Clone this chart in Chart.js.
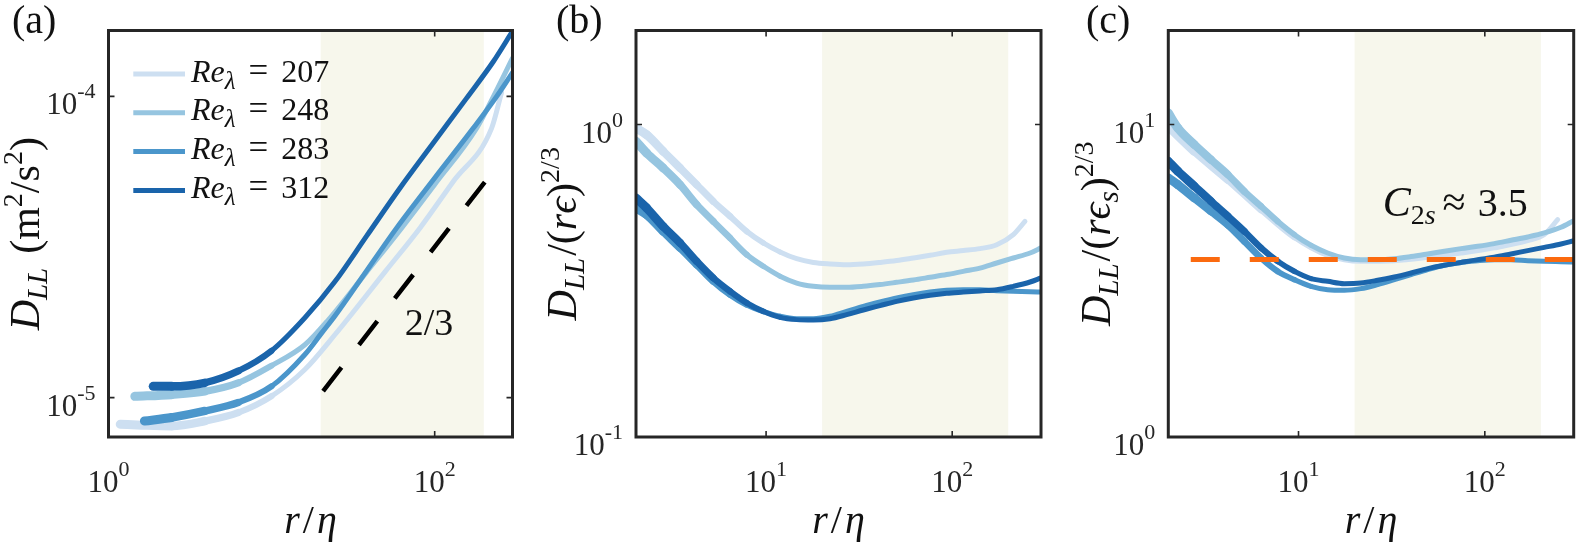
<!DOCTYPE html>
<html>
<head>
<meta charset="utf-8">
<script src="https://cdn.jsdelivr.net/npm/chart.js@4.4.1/dist/chart.umd.min.js"></script>
<style>
html,body{margin:0;padding:0;background:#fff;}
#wrap{position:relative;width:1576px;height:542px;overflow:hidden;background:#fff;}
canvas{position:absolute;top:0;}
</style>
</head>
<body>
<div id="wrap">
<canvas id="cA" width="525" height="542" style="left:0px"></canvas>
<canvas id="cB" width="525" height="542" style="left:525px"></canvas>
<canvas id="cC" width="526" height="542" style="left:1050px"></canvas>
</div>
<script>
// ==============================
// Structure function panels (a) (b) (c)
// ==============================

const reLambda = [207, 248, 283, 312]

// (a) D_LL vs r/eta
const rA207 = [1.18, 1.6, 2.44, 3.9, 6.24, 10, 16, 24.5, 50, 81.3, 130, 223.5, 257]
const dA207 = [8.16e-6, 8.1e-6, 8.05e-6, 8.36e-6, 8.92e-6, 1.012e-5, 1.24e-5, 1.62e-5, 2.63e-5, 3.66e-5, 5.22e-5, 7.85e-5, 1.03e-4]
const rA248 = [1.45, 2.44, 3.9, 6.24, 10, 16, 22.3, 38, 62.8, 100, 180.8, 240, 300]
const dA248 = [1.01e-5, 1.023e-5, 1.049e-5, 1.119e-5, 1.277e-5, 1.498e-5, 1.813e-5, 2.6e-5, 3.66e-5, 5.1e-5, 7.85e-5, 1.05e-4, 1.34e-4]
const rA283 = [1.66, 2.44, 3.9, 6.24, 10, 16, 20.3, 24.5, 35, 58.5, 100, 172.6, 240, 300]
const dA283 = [8.36e-6, 8.59e-6, 9.03e-6, 9.63e-6, 1.09e-5, 1.39e-5, 1.64e-5, 1.87e-5, 2.46e-5, 3.66e-5, 5.36e-5, 7.85e-5, 1.0e-4, 1.2e-4]
const rA312 = [1.88, 2.44, 3.9, 6.24, 10, 16, 24.4, 38.3, 61.3, 98, 157, 229, 300]
const dA312 = [1.09e-5, 1.09e-5, 1.12e-5, 1.225e-5, 1.431e-5, 1.841e-5, 2.423e-5, 3.443e-5, 4.966e-5, 7.0e-5, 9.87e-5, 1.306e-4, 1.646e-4]
const slopeR = [20.7, 203]
const slopeD = [1.05e-5, 5.2e-5]

// (b) D_LL/(r eps)^(2/3)
const rB207 = [2.0, 2.28, 2.8, 3.45, 4.24, 5.2, 6.4, 7.87, 9.66, 11.88, 14.6, 17.95, 22.05, 27.1, 33.3, 40.9, 50.3, 61.8, 76, 93.4, 114.7, 141, 173.5, 213, 246]
const cB207 = [0.975, 0.928, 0.821, 0.726, 0.642, 0.568, 0.509, 0.455, 0.418, 0.391, 0.372, 0.362, 0.358, 0.356, 0.358, 0.362, 0.367, 0.374, 0.3815, 0.39, 0.395, 0.4007, 0.4125, 0.4446, 0.49]
const rB = [2.0, 2.28, 2.8, 3.45, 4.24, 5.2, 6.4, 7.87, 9.66, 11.88, 14.6, 17.95, 22.05, 27.1, 33.3, 40.9, 50.3, 61.8, 76, 93.4, 114.7, 141, 173.5, 213, 262, 300]
const cB248 = [0.884, 0.811, 0.726, 0.642, 0.554, 0.49, 0.4335, 0.3835, 0.352, 0.327, 0.311, 0.3035, 0.3013, 0.3013, 0.3035, 0.3075, 0.3126, 0.318, 0.3244, 0.331, 0.339, 0.347, 0.3605, 0.374, 0.388, 0.403]
const cB283 = [0.541, 0.515, 0.455, 0.403, 0.356, 0.315, 0.2855, 0.2652, 0.2525, 0.2434, 0.2391, 0.2391, 0.2434, 0.2525, 0.262, 0.2705, 0.2786, 0.2855, 0.291, 0.2947, 0.296, 0.296, 0.294, 0.2926, 0.2915, 0.291]
const cB312 = [0.582, 0.541, 0.472, 0.418, 0.365, 0.323, 0.2926, 0.2685, 0.2525, 0.2416, 0.2375, 0.2368, 0.2391, 0.2464, 0.255, 0.2633, 0.2718, 0.2786, 0.2842, 0.2884, 0.291, 0.2935, 0.296, 0.3035, 0.3134, 0.323]

// (c) D_LL/(r eps_s)^(2/3)
const rC207 = [2.0, 2.76, 4.17, 6.29, 9.49, 14.34, 21.6, 32.7, 49.4, 74.5, 112.4, 169.9, 208.6, 246]
const cC207 = [9.87, 8.21, 6.66, 5.34, 4.356, 3.815, 3.65, 3.668, 3.76, 3.88, 4.03, 4.25, 4.446, 4.96]
const rC = [2.0, 2.25, 2.76, 3.39, 4.17, 5.12, 6.29, 7.73, 9.49, 11.67, 14.34, 17.6, 21.6, 26.6, 32.7, 40.2, 49.4, 60.6, 74.5, 91.6, 112.4, 138.2, 169.9, 208.6, 256.4, 300]
const cC248 = [10.89, 9.75, 8.63, 7.72, 6.92, 6.11, 5.476, 4.9, 4.446, 4.107, 3.88, 3.74, 3.695, 3.695, 3.72, 3.78, 3.853, 3.93, 4.007, 4.077, 4.158, 4.261, 4.367, 4.498, 4.69, 4.925]
const cC283 = [6.75, 6.42, 5.82, 5.276, 4.78, 4.23, 3.74, 3.39, 3.188, 3.035, 2.96, 2.947, 2.984, 3.075, 3.188, 3.31, 3.434, 3.544, 3.62, 3.668, 3.695, 3.695, 3.668, 3.65, 3.64, 3.633]
const cC312 = [7.63, 7.09, 6.35, 5.68, 5.09, 4.55, 4.03, 3.65, 3.39, 3.212, 3.15, 3.096, 3.11, 3.173, 3.252, 3.35, 3.458, 3.544, 3.62, 3.695, 3.76, 3.853, 3.95, 4.046, 4.147, 4.25]
const c2sR = [2.64, 300]
const c2sV = [3.7, 3.7]

// inertial range band
const bandR = [20, 200]


const blues = ["#cddff1", "#96c5e0", "#4b96cb", "#1a64ab"]
const SERIF = '"Liberation Serif",serif'
const INK = "#262626"


function pts(xs, ys){
return xs.map((x,i)=>({x:x, y:ys[i]}))
}

// the small-r part of each record is noisy, so it reads as a wider band
function bandWidth(x){
if(x >= 10) return 5
if(x <= 2) return 9
return 5 + 4*Math.log(10/x)/Math.log(5)
}

function curve(xs, ys, i){
return {
data: pts(xs, ys),
borderColor: blues[i],
borderWidth: 5,
borderCapStyle: "round",
borderJoinStyle: "round",
pointRadius: 0,
cubicInterpolationMode: "monotone",
clip: 0,
order: 4 - i,
segment: {
borderWidth: c => bandWidth(xs[c.p0DataIndex])
}
}
}

function dashed(xs, ys, color, dash, w){
return {
data: pts(xs, ys),
borderColor: color,
borderWidth: w,
borderDash: dash,
borderCapStyle: "butt",
pointRadius: 0,
clip: 0,
order: 0
}
}


// rich text helpers

function setFont(ctx, size, it){
ctx.font = (it ? "italic " : "") + size + "px " + SERIF
}

function richWidth(ctx, parts){
let w = 0
parts.forEach(p=>{
setFont(ctx, p.s, p.it)
w += ctx.measureText(p.t).width + (p.g || 0)
})
return w
}

function drawRich(ctx, parts, x, y){
let cx = x
parts.forEach(p=>{
setFont(ctx, p.s, p.it)
ctx.fillText(p.t, cx, y + (p.dy || 0))
cx += ctx.measureText(p.t).width + (p.g || 0)
})
}

function powLabel(v){
const e = Math.round(Math.log10(v))
return [{t:"10", s:31}, {t:String(e), s:22, dy:-16}]
}


// panel decorations

const panelPlugin = {

id: "panel",

beforeDatasetsDraw(chart, args, o){
const {ctx, chartArea:a, scales:{x}} = chart
const x0 = x.getPixelForValue(bandR[0])
const x1 = x.getPixelForValue(bandR[1])
ctx.save()
ctx.fillStyle = "#f7f7ec"
ctx.fillRect(x0, a.top, x1 - x0, a.bottom - a.top)
ctx.restore()
},

afterDatasetsDraw(chart, args, o){
const {ctx, chartArea:a, scales:{x, y}} = chart
ctx.save()
ctx.strokeStyle = INK
ctx.fillStyle = INK
ctx.textBaseline = "alphabetic"

// inward ticks on all four sides
ctx.lineWidth = 1.6
ctx.beginPath()
o.xTicks.forEach(v=>{
const px = x.getPixelForValue(v)
ctx.moveTo(px, a.bottom); ctx.lineTo(px, a.bottom - 6)
ctx.moveTo(px, a.top); ctx.lineTo(px, a.top + 6)
})
o.yTicks.forEach(v=>{
const py = y.getPixelForValue(v)
ctx.moveTo(a.left, py); ctx.lineTo(a.left + 6, py)
ctx.moveTo(a.right, py); ctx.lineTo(a.right - 6, py)
})
ctx.stroke()

// box
ctx.lineWidth = 3
ctx.strokeRect(a.left, a.top, a.right - a.left, a.bottom - a.top)

// tick labels
o.xTicks.forEach(v=>{
const parts = powLabel(v)
const w = richWidth(ctx, parts)
drawRich(ctx, parts, x.getPixelForValue(v) - w/2, a.bottom + 55)
})
o.yTicks.forEach(v=>{
const parts = powLabel(v)
const w = richWidth(ctx, parts)
drawRich(ctx, parts, a.left - 13 - w, y.getPixelForValue(v) + 18)
})

ctx.fillStyle = "#111"

// x label
const xl = [{t:"r", s:40, it:true, g:3}, {t:"/", s:40, g:3}, {t:"η", s:40, it:true}]
const xw = richWidth(ctx, xl)
drawRich(ctx, xl, (a.left + a.right)/2 - xw/2, a.bottom + 96)

// y label (rotated)
ctx.save()
ctx.translate(a.left + o.yLabelDx, (a.top + a.bottom)/2)
ctx.rotate(-Math.PI/2)
const yw = richWidth(ctx, o.yLabel)
drawRich(ctx, o.yLabel, -yw/2, 13)
ctx.restore()

// panel letter
setFont(ctx, 40, false)
ctx.fillText(o.letter, o.letterX, 33)

if(o.extra) o.extra(chart, ctx, a)

ctx.restore()
}

}

Chart.register(panelPlugin)


function makePanel(id, datasets, scaleX, scaleY, pad, deco){
return new Chart(document.getElementById(id), {
type: "line",
data: {datasets: datasets},
options: {
responsive: false,
animation: false,
events: [],
layout: {padding: pad},
scales: {
x: {type: "logarithmic", min: scaleX[0], max: scaleX[1], display: false},
y: {type: "logarithmic", min: scaleY[0], max: scaleY[1], display: false}
},
plugins: {
legend: {display: false},
tooltip: {enabled: false},
panel: deco
}
}
})
}


// (a)

makePanel("cA",
[
curve(rA207, dA207, 0),
curve(rA248, dA248, 1),
curve(rA283, dA283, 2),
curve(rA312, dA312, 3),
dashed(slopeR, slopeD, "#000000", [30, 28.6], 4.5)
],
[1, 300], [7.4e-6, 1.655e-4],
{left: 108.5, right: 12.5, top: 30.5, bottom: 105},
{
xTicks: [1, 100],
yTicks: [1e-5, 1e-4],
letter: "(a)", letterX: 12,
yLabelDx: -83,
yLabel: [
{t:"D", s:42, it:true},
{t:"LL", s:29, it:true, dy:8, g:14},
{t:"(m", s:42},
{t:"2", s:28, dy:-17},
{t:"/s", s:42},
{t:"2", s:28, dy:-17},
{t:")", s:42}
],
extra(chart, ctx, a){
// legend
reLambda.forEach((re, i)=>{
const ly = a.top + 43.5 + i*38.8
ctx.strokeStyle = blues[i]
ctx.lineWidth = 5
ctx.beginPath()
ctx.moveTo(a.left + 24.8, ly)
ctx.lineTo(a.left + 76.5, ly)
ctx.stroke()
ctx.fillStyle = "#111"
drawRich(ctx, [
{t:"Re", s:32, it:true},
{t:"λ", s:25, it:true, dy:7, g:13},
{t:"=", s:35, g:13},
{t:String(re), s:32}
], a.left + 82.5, ly + 7.5)
})
// slope annotation
const tp = [{t:"2/3", s:38}]
const tw = richWidth(ctx, tp)
drawRich(ctx, tp, a.left + 320.5 - tw/2, a.top + 304.5)
}
}
)


// (b)

makePanel("cB",
[
curve(rB207, cB207, 0),
curve(rB, cB248, 1),
curve(rB, cB283, 2),
curve(rB, cB312, 3)
],
[2, 300], [0.1, 2],
{left: 111, right: 9, top: 30.5, bottom: 105},
{
xTicks: [10, 100],
yTicks: [0.1, 1],
letter: "(b)", letterX: 31,
yLabelDx: -73,
yLabel: [
{t:"D", s:42, it:true},
{t:"LL", s:29, it:true, dy:8, g:2},
{t:"/(", s:42},
{t:"r", s:42, it:true},
{t:"ϵ", s:42, it:true},
{t:")", s:42},
{t:"2/3", s:28, dy:-17}
]
}
)


// (c)

makePanel("cC",
[
curve(rC207, cC207, 0),
curve(rC, cC248, 1),
curve(rC, cC283, 2),
curve(rC, cC312, 3),
dashed(c2sR, c2sV, "#fb6a0f", [29, 30], 5)
],
[2, 300], [1, 20],
{left: 118.3, right: 2.3, top: 30.5, bottom: 105},
{
xTicks: [10, 100],
yTicks: [1, 10],
letter: "(c)", letterX: 36,
yLabelDx: -71,
yLabel: [
{t:"D", s:42, it:true},
{t:"LL", s:29, it:true, dy:8, g:2},
{t:"/(", s:42},
{t:"r", s:42, it:true},
{t:"ϵ", s:42, it:true},
{t:"s", s:29, it:true, dy:8},
{t:")", s:42},
{t:"2/3", s:28, dy:-17}
],
extra(chart, ctx, a){
ctx.fillStyle = "#111"
drawRich(ctx, [
{t:"C", s:42, it:true},
{t:"2", s:28, dy:8},
{t:"s", s:28, it:true, dy:8, g:7},
{t:"≈", s:42, g:12},
{t:"3.5", s:40}
], a.left + 214.4, a.top + 185.8)
}
}
)
</script>
</body>
</html>
